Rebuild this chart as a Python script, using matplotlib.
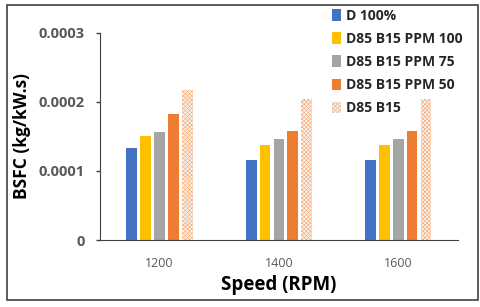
import numpy as np
import matplotlib
matplotlib.use("Agg")
import matplotlib.pyplot as plt
from matplotlib.patches import Rectangle

plt.rcParams['font.family'] = ['Open Sans', 'DejaVu Sans']
plt.rcParams['hatch.linewidth'] = 0.5

speeds = ['1200', '1400', '1600']
series = ['D 100%', 'D85 B15 PPM 100', 'D85 B15 PPM 75', 'D85 B15 PPM 50', 'D85 B15']
d100 = [0.000134, 0.0001155, 0.0001155]
ppm100 = [0.000151, 0.000138, 0.000138]
ppm75 = [0.000157, 0.000147, 0.000147]
ppm50 = [0.000182, 0.000158, 0.000158]
b15 = [0.000217, 0.000204, 0.000204]
values = [d100, ppm100, ppm75, ppm50, b15]
colors = ['#4472C4', '#FFC000', '#A5A5A5', '#ED7D31', '#F8CBAD']

fig = plt.figure(figsize=(4.8, 3.07), dpi=100)
ax = fig.add_axes([0.208, 0.218, 0.746, 0.675])

x = np.arange(len(speeds))
w = 0.09
step = 0.116
for i, (name, vals) in enumerate(zip(series, values)):
    pos = x + (i - 2) * step
    if i == 4:
        ax.bar(pos, vals, w, facecolor='#FDF3EC', edgecolor='#F4B183', hatch='xxxxxxxx',
               linewidth=0, label=name)
    else:
        ax.bar(pos, vals, w, color=colors[i], label=name)

ax.set_xlim(-0.5, 2.5)
ax.set_ylim(0, 0.0003)
ax.set_yticks([0, 0.0001, 0.0002, 0.0003])
ax.set_yticklabels(['0', '0.0001', '0.0002', '0.0003'], fontsize=10.5,
                   fontweight='bold', color='#595959')
ax.set_xticks(x)
ax.set_xticklabels(speeds, fontsize=9, color='#595959')
ax.tick_params(axis='x', length=0, pad=12)
ax.tick_params(axis='y', length=3, width=1, color='#404040', pad=8)

for s in ['top', 'right']:
    ax.spines[s].set_visible(False)
ax.spines['left'].set_color('#404040')
ax.spines['bottom'].set_color('#404040')

ax.set_xlabel('Speed (RPM)', fontsize=13.5, fontweight='bold', labelpad=4)
ax.set_ylabel('BSFC (kg/kW.s)', fontsize=12.5, fontweight='bold', labelpad=5)

leg = fig.legend(loc='upper left', bbox_to_anchor=(0.668, 1.008), frameon=False,
                 prop={'weight': 'bold', 'size': 10}, handlelength=0.7,
                 handleheight=0.9, handletextpad=0.35, labelspacing=0.66,
                 borderpad=0.3)
for t in leg.get_texts():
    t.set_color('#262626')

fig.patches.append(Rectangle((0.015, 0.023), 0.98, 0.96, transform=fig.transFigure,
                             fill=False, edgecolor='#404040', linewidth=1.2))

fig.savefig('out.png', dpi=100)
